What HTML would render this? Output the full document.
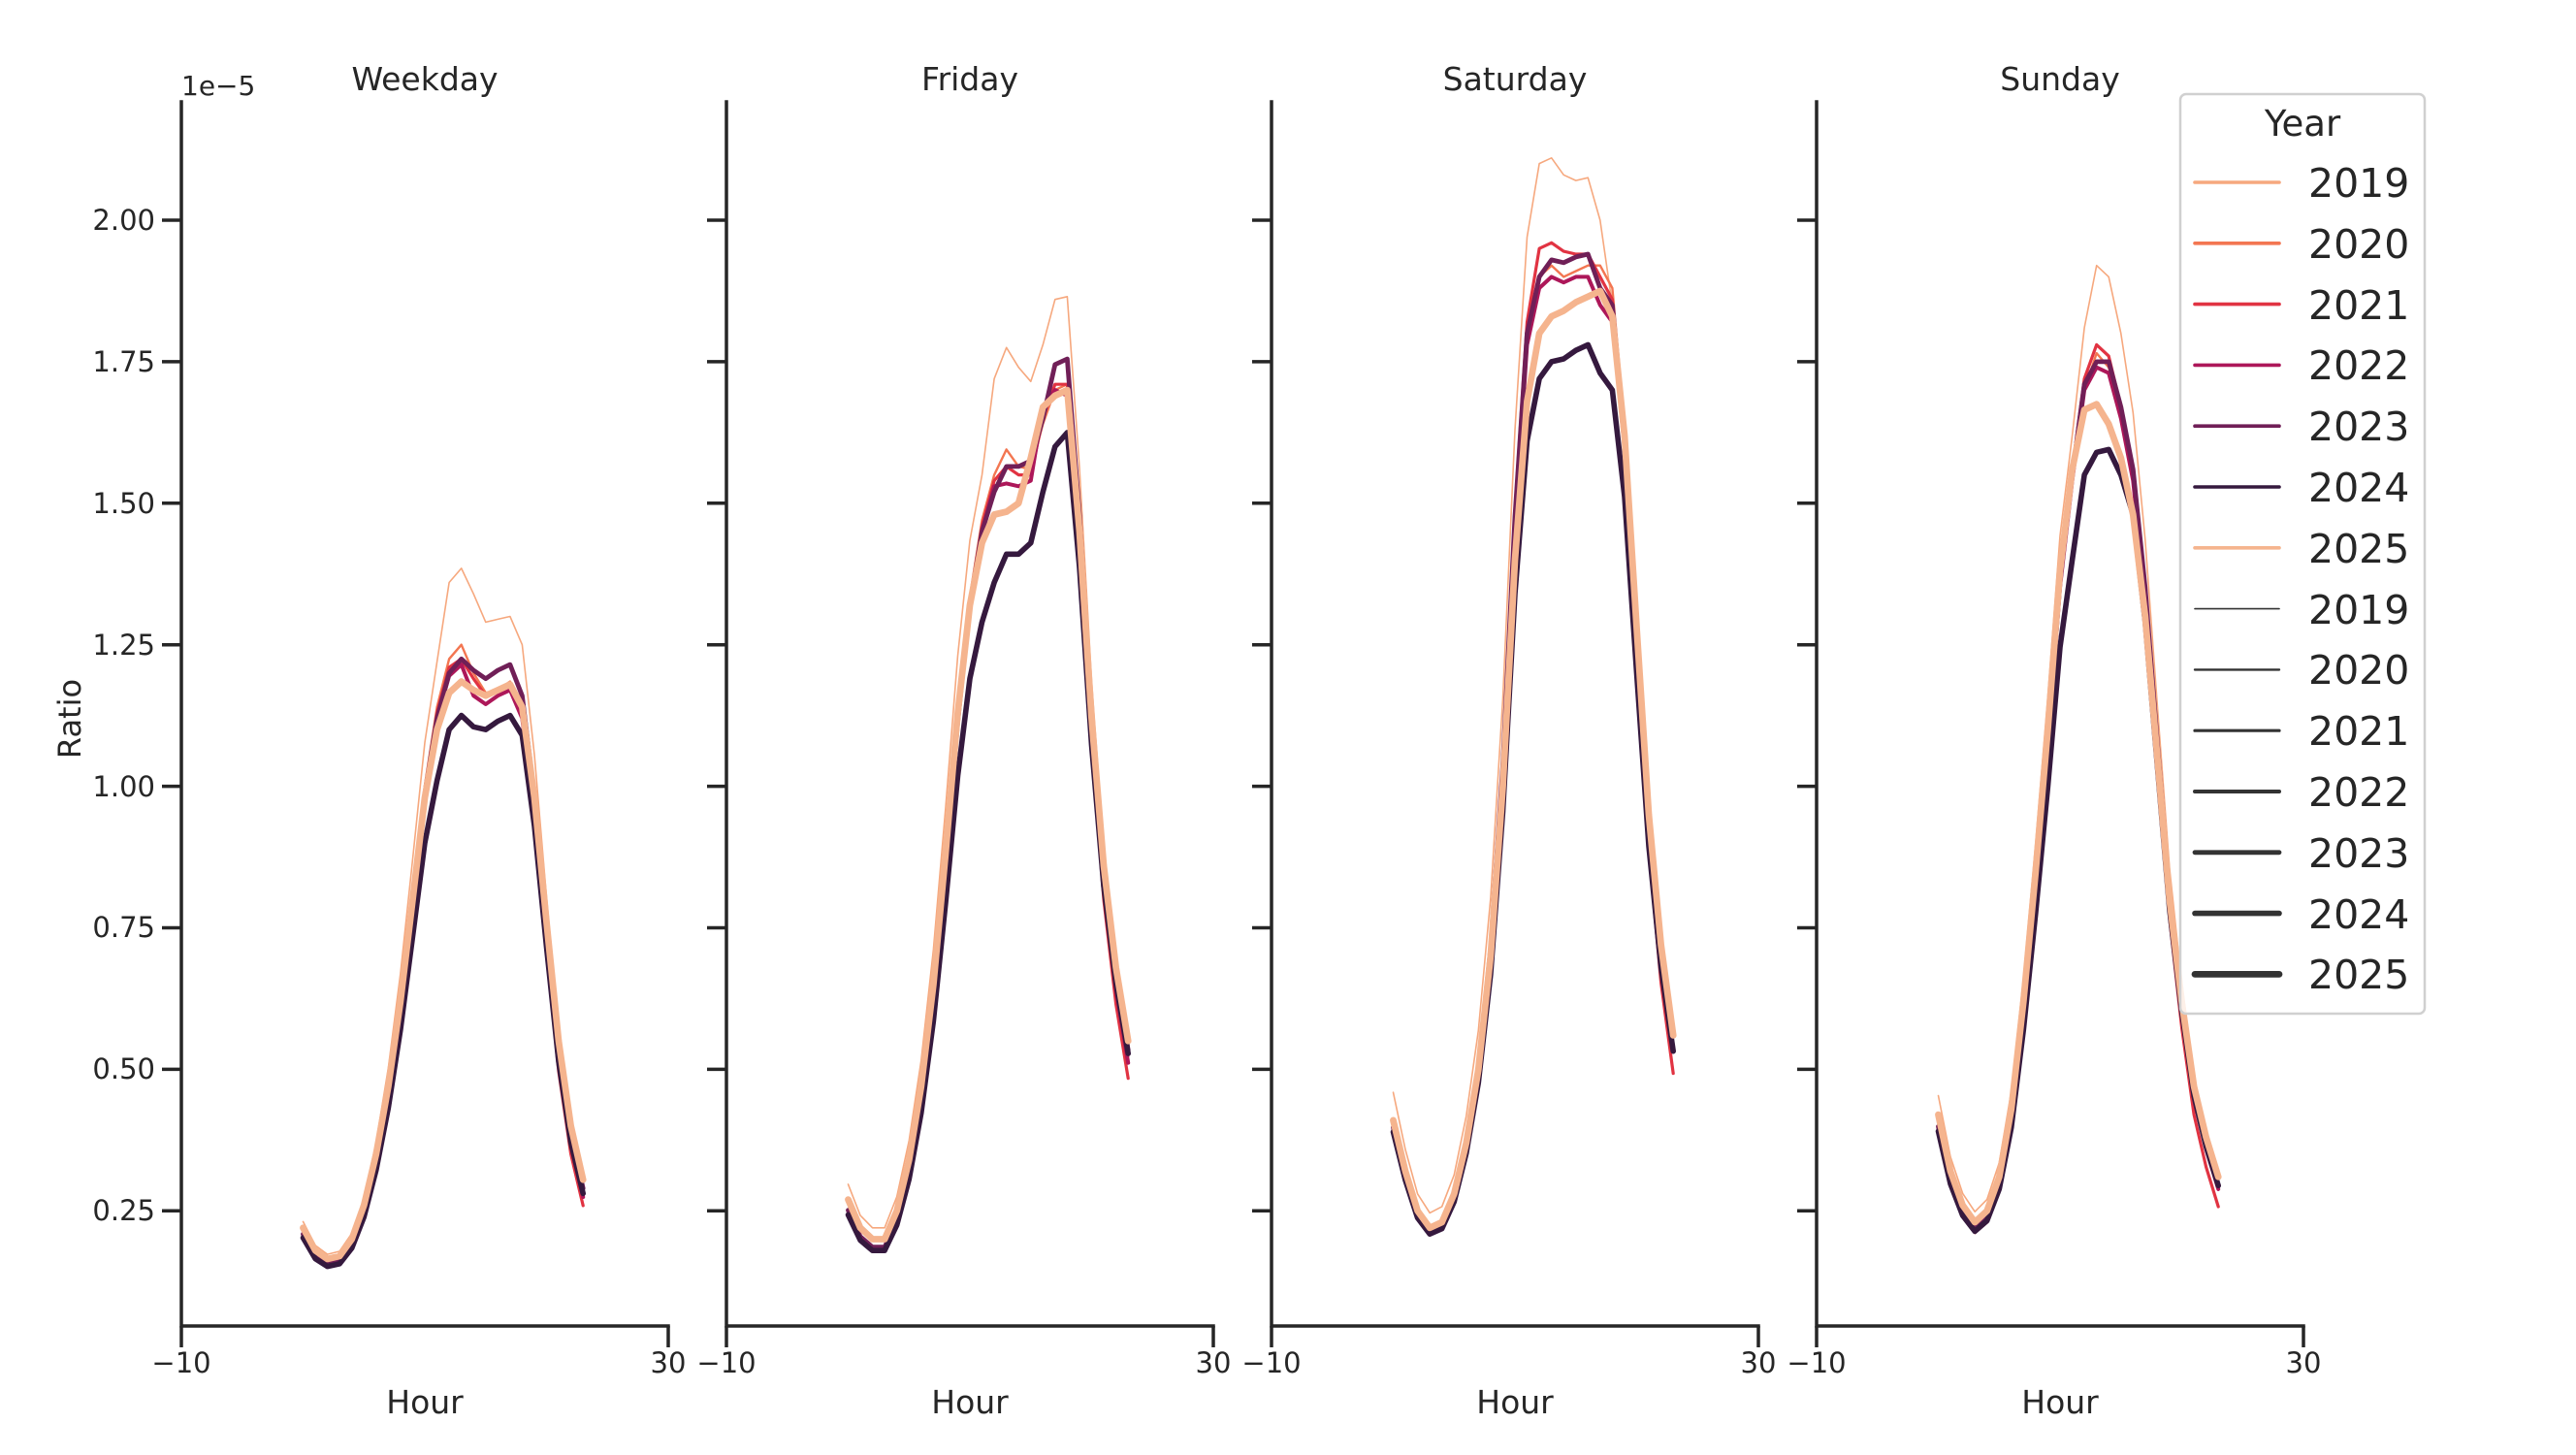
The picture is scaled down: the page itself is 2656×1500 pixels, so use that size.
<!DOCTYPE html>
<html><head><meta charset="utf-8"><style>
html,body{margin:0;padding:0;background:#fff;}
svg{display:block;font-family:"DejaVu Sans","Liberation Sans",sans-serif;fill:#262626;}
</style></head><body>
<svg id="s" width="2656" height="1500" viewBox="0 0 2656 1500" xmlns="http://www.w3.org/2000/svg">
<rect width="2656" height="1500" fill="#fff"/>
<g id="plots"></g>
<g stroke="#262626" stroke-width="3.5" fill="none" stroke-linecap="square">
<path d="M187 105V1367H689"/><path d="M749 105V1367H1251"/><path d="M1311 105V1367H1813"/><path d="M1873 105V1367H2375"/>
</g>
<g id="ticks" stroke="#262626" stroke-width="3.5"></g>
<g font-size="29" text-anchor="end">
<text x="160" y="237">2.00</text><text x="160" y="383">1.75</text><text x="160" y="529">1.50</text><text x="160" y="675">1.25</text><text x="160" y="821">1.00</text><text x="160" y="966">0.75</text><text x="160" y="1112">0.50</text><text x="160" y="1258">0.25</text>
</g>
<text x="187" y="98" font-size="28">1e−5</text>
<text transform="translate(83,741) rotate(-90)" font-size="32" text-anchor="middle">Ratio</text>
<g font-size="29" text-anchor="middle">
<text x="187" y="1415">−10</text><text x="689" y="1415">30</text>
<text x="749" y="1415">−10</text><text x="1251" y="1415">30</text>
<text x="1311" y="1415">−10</text><text x="1813" y="1415">30</text>
<text x="1873" y="1415">−10</text><text x="2375" y="1415">30</text>
</g>
<g font-size="33" text-anchor="middle">
<text x="438" y="1457">Hour</text><text x="1000" y="1457">Hour</text><text x="1562" y="1457">Hour</text><text x="2124" y="1457">Hour</text>
<text x="438" y="93">Weekday</text><text x="1000" y="93">Friday</text><text x="1562" y="93">Saturday</text><text x="2124" y="93">Sunday</text>
</g>
<g>
<rect x="2248" y="97" width="252" height="948" rx="6" fill="#fff" fill-opacity="0.8" stroke="#d0d0d0" stroke-width="2.5"/>
<text x="2374" y="140" font-size="37" text-anchor="middle">Year</text>
<g id="leg"></g>
<g font-size="41">
<text x="2380" y="203">2019</text><text x="2380" y="266">2020</text><text x="2380" y="329">2021</text><text x="2380" y="391">2022</text><text x="2380" y="454">2023</text><text x="2380" y="517">2024</text><text x="2380" y="580">2025</text><text x="2380" y="643">2019</text><text x="2380" y="705">2020</text><text x="2380" y="768">2021</text><text x="2380" y="831">2022</text><text x="2380" y="894">2023</text><text x="2380" y="957">2024</text><text x="2380" y="1019">2025</text>
</g>
</g>
</svg>
<script>
(function(){
var NS="http://www.w3.org/2000/svg";
var cols=["#f6a87e","#f37651","#e13342","#ad1759","#701f57","#35193e","#f5b48e"];
var wid=[1.6,2.4,3.2,4.0,4.8,5.6,6.8];
var lefts=[187,749,1311,1873];
function X(l,h){return l+(h+10)*12.55;}
function Y(v){return 1394.2-583.6*v;}
var P=[
{b:[0.22,0.18,0.165,0.17,0.20,0.26,0.35,0.47,0.62,0.80,0.98,1.10,1.165,1.185,1.17,1.16,1.17,1.18,1.14,0.98,0.76,0.55,0.40,0.305],s:11,
o:[[1.22,1.36,1.385,1.34,1.29,1.295,1.30,1.25],[1.14,1.225,1.25,1.20,1.165,1.17,1.185,1.13],[1.13,1.21,1.225,1.19,1.16,1.17,1.18,1.12],[1.12,1.195,1.215,1.16,1.145,1.16,1.17,1.12],[1.12,1.20,1.225,1.205,1.19,1.205,1.215,1.16],[1.01,1.10,1.125,1.105,1.10,1.115,1.125,1.09]],
n:[1.05,0.95,0.92,0.94,0.95,0.92],e:[1.0,0.95,0.85,0.9,0.95,0.92]},
{b:[0.27,0.22,0.20,0.20,0.25,0.34,0.47,0.65,0.88,1.13,1.32,1.43,1.48,1.485,1.50,1.58,1.67,1.69,1.70,1.45,1.12,0.86,0.68,0.55],s:11,
o:[[1.55,1.72,1.775,1.74,1.715,1.78,1.86,1.865],[1.47,1.55,1.595,1.565,1.56,1.64,1.70,1.71],[1.46,1.54,1.565,1.55,1.55,1.65,1.71,1.71],[1.45,1.53,1.535,1.53,1.54,1.67,1.70,1.69],[1.45,1.52,1.565,1.565,1.575,1.65,1.745,1.755],[1.29,1.36,1.41,1.41,1.43,1.52,1.60,1.625]],
n:[1.1,0.93,0.92,0.93,0.93,0.9],e:[1.0,0.95,0.88,0.93,0.97,0.96]},
{b:[0.41,0.32,0.25,0.22,0.23,0.28,0.37,0.50,0.70,1.00,1.40,1.68,1.80,1.83,1.84,1.855,1.865,1.875,1.83,1.62,1.28,0.95,0.72,0.56],s:11,
o:[[1.97,2.10,2.11,2.08,2.07,2.075,2.00,1.85],[1.82,1.90,1.92,1.90,1.91,1.92,1.92,1.88],[1.82,1.95,1.96,1.945,1.94,1.94,1.90,1.86],[1.78,1.88,1.90,1.89,1.90,1.90,1.85,1.82],[1.80,1.90,1.93,1.925,1.935,1.94,1.88,1.85],[1.61,1.72,1.75,1.755,1.77,1.78,1.73,1.70]],
n:[1.12,0.97,0.96,0.96,0.97,0.95],e:[1.0,0.95,0.88,0.95,0.95,0.95]},
{b:[0.42,0.32,0.26,0.23,0.25,0.31,0.43,0.62,0.85,1.10,1.38,1.56,1.665,1.675,1.64,1.58,1.48,1.30,1.05,0.80,0.62,0.47,0.38,0.31],s:11,
o:[[1.62,1.81,1.92,1.90,1.80,1.66],[1.55,1.70,1.765,1.74,1.66,1.55],[1.56,1.72,1.78,1.76,1.67,1.56],[1.54,1.70,1.74,1.73,1.65,1.54],[1.55,1.71,1.75,1.75,1.67,1.56],[1.40,1.55,1.59,1.595,1.55,1.48]],
n:[1.08,0.95,0.92,0.94,0.95,0.93],e:[1.0,0.95,0.83,0.93,0.95,0.95]}
];
var g=document.getElementById("plots");
P.forEach(function(p,pi){
  var l=lefts[pi];
  for(var y=0;y<7;y++){
    var v=[];
    if(y==6){v=p.b.slice();}
    else{
      var f=[];var o=p.o[y];var s=p.s,eh=s+o.length-1;
      for(var h=0;h<24;h++){
        if(h<=5)f[h]=p.n[y];
        else if(h>=s&&h<=eh)f[h]=o[h-s]/p.b[h];
        else f[h]=null;
      }
      var fs=o[0]/p.b[s],fe=o[o.length-1]/p.b[eh];
      for(var h=6;h<s;h++){var t=(h-5)/(s-5);f[h]=p.n[y]*(1-t)+fs*t;}
      for(var h=eh+1;h<24;h++){var t=(h-eh)/(23-eh);f[h]=fe*(1-t)+p.e[y]*t;}
      for(var h=0;h<24;h++)v[h]=p.b[h]*f[h];
    }
    var pts=v.map(function(val,h){return X(l,h).toFixed(1)+","+Y(val).toFixed(1);}).join(" ");
    var pl=document.createElementNS(NS,"polyline");
    pl.setAttribute("points",pts);pl.setAttribute("fill","none");
    pl.setAttribute("stroke",cols[y]);pl.setAttribute("stroke-width",wid[y]);
    pl.setAttribute("stroke-linejoin","round");pl.setAttribute("stroke-linecap","round");
    g.appendChild(pl);
  }
});
var tk=document.getElementById("ticks");var d="";
lefts.forEach(function(l){
  for(var i=0;i<8;i++){var yy=227+i*145.9;d+="M"+(l-20)+" "+yy+"H"+l;}
  d+="M"+l+" 1367V1389M"+(l+502)+" 1367V1389";
});
var pt=document.createElementNS(NS,"path");pt.setAttribute("d",d);tk.appendChild(pt);
var lg=document.getElementById("leg");
for(var i=0;i<14;i++){
  var yy=188+i*62.8;var ln=document.createElementNS(NS,"line");
  ln.setAttribute("x1",2263);ln.setAttribute("x2",2350);ln.setAttribute("y1",yy);ln.setAttribute("y2",yy);
  ln.setAttribute("stroke-linecap","round");
  if(i<7){ln.setAttribute("stroke",cols[i]);ln.setAttribute("stroke-width",3.6);}
  else{ln.setAttribute("stroke","#333");ln.setAttribute("stroke-width",[1.6,2.4,3.2,4.0,4.8,5.6,6.8][i-7]);}
  lg.appendChild(ln);
}
})();
</script>
</body></html>
